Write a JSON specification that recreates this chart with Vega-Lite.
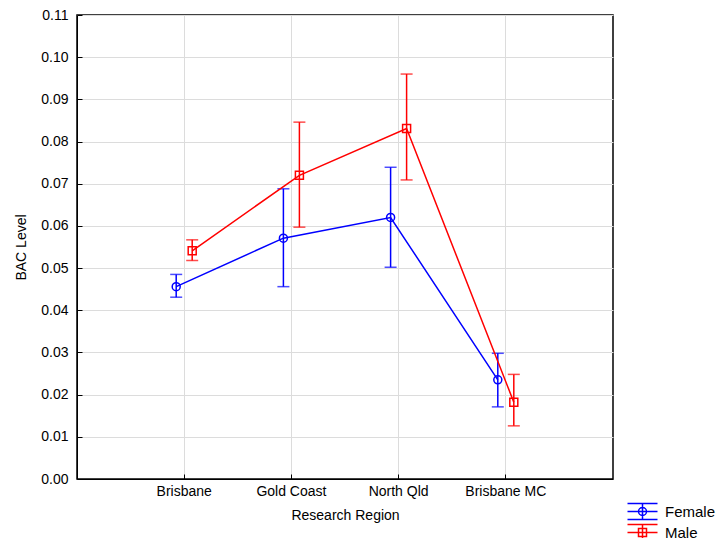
{
  "$schema": "https://vega.github.io/schema/vega-lite/v6.json",
  "width": 536,
  "height": 464,
  "autosize": "none",
  "padding": {"left": 77, "top": 15, "right": 105, "bottom": 59},
  "background": "white",
  "config": {
    "font": "Liberation Sans",
    "view": {"stroke": "black", "strokeWidth": 1.5},
    "axis": {
      "labelFont": "Liberation Sans",
      "titleFont": "Liberation Sans",
      "labelFontSize": 14,
      "titleFontSize": 14,
      "titleFontWeight": "normal",
      "labelColor": "black",
      "titleColor": "black",
      "domainColor": "black",
      "tickColor": "black",
      "gridColor": "#dcdcdc",
      "gridWidth": 1
    }
  },
  "data": {
    "values": [
      {"region": "Brisbane", "gender": "Female", "mean": 0.0456, "lo": 0.0431, "hi": 0.0485},
      {"region": "Gold Coast", "gender": "Female", "mean": 0.0571, "lo": 0.0456, "hi": 0.0688},
      {"region": "North Qld", "gender": "Female", "mean": 0.0620, "lo": 0.0502, "hi": 0.0739},
      {"region": "Brisbane MC", "gender": "Female", "mean": 0.0235, "lo": 0.0171, "hi": 0.0298},
      {"region": "Brisbane", "gender": "Male", "mean": 0.0541, "lo": 0.0518, "hi": 0.0567},
      {"region": "Gold Coast", "gender": "Male", "mean": 0.0720, "lo": 0.0597, "hi": 0.0846},
      {"region": "North Qld", "gender": "Male", "mean": 0.0831, "lo": 0.0709, "hi": 0.0960},
      {"region": "Brisbane MC", "gender": "Male", "mean": 0.0182, "lo": 0.0126, "hi": 0.0248}
    ]
  },
  "encoding": {
    "x": {
      "field": "region",
      "type": "nominal",
      "sort": ["Brisbane", "Gold Coast", "North Qld", "Brisbane MC"],
      "scale": {"type": "band", "paddingInner": 0.7015, "paddingOuter": 0.8507},
      "axis": {
        "title": "Research Region",
        "labelAngle": 0,
        "grid": true,
        "bandPosition": 0.5,
        "tickSize": -5,
        "labelPadding": 10,
        "titlePadding": 10
      }
    },
    "xOffset": {
      "field": "gender",
      "type": "nominal",
      "sort": ["Female", "Male"],
      "scale": {"paddingInner": 0, "paddingOuter": 0}
    },
    "color": {
      "field": "gender",
      "type": "nominal",
      "scale": {"domain": ["Female", "Male"], "range": ["#0000ff", "#ff0000"]},
      "legend": {
        "title": null,
        "orient": "none",
        "legendX": 558,
        "legendY": 489,
        "padding": 0,
        "labelFont": "Liberation Sans",
        "labelFontSize": 15,
        "labelColor": "black",
        "labelOffset": 15,
        "rowPadding": -2,
        "symbolSize": 100,
        "symbolStrokeWidth": 1.5,
        "encode": {
          "symbols": {
            "update": {
              "shape": {"signal": "datum.value === 'Female' ? 'M -3 -1.6 L 3 -1.6 M -3 1.6 L 3 1.6 M -3 0 L 3 0 M 0 -1.6 L 0 1.6 M -0.8 0 A 0.8 0.8 0 1 0 0.8 0 A 0.8 0.8 0 1 0 -0.8 0' : 'M -3 -1.6 L 3 -1.6 M -3 1.6 L 3 1.6 M -3 0 L 3 0 M 0 -1.6 L 0 1.6 M -0.8 -0.8 L 0.8 -0.8 L 0.8 0.8 L -0.8 0.8 Z'"},
              "fill": {"value": "transparent"},
              "fillOpacity": {"value": 0},
              "strokeWidth": {"value": 1.5},
              "size": {"value": 100}
            }
          }
        }
      }
    }
  },
  "layer": [
    {
      "mark": {"type": "rule", "strokeWidth": 1.5},
      "encoding": {
        "y": {
          "field": "lo",
          "type": "quantitative",
          "scale": {"domain": [0, 0.11], "nice": false, "zero": false},
          "axis": {
            "title": "BAC Level",
            "format": ".2f",
            "values": [0, 0.01, 0.02, 0.03, 0.04, 0.05, 0.06, 0.07, 0.08, 0.09, 0.1, 0.11],
            "grid": true,
            "tickSize": -5,
            "labelPadding": 14,
            "titlePadding": 12
          }
        },
        "y2": {"field": "hi"}
      }
    },
    {
      "mark": {"type": "tick", "orient": "horizontal", "size": 12, "thickness": 1.5},
      "encoding": {"y": {"field": "lo", "type": "quantitative"}}
    },
    {
      "mark": {"type": "tick", "orient": "horizontal", "size": 12, "thickness": 1.5},
      "encoding": {"y": {"field": "hi", "type": "quantitative"}}
    },
    {
      "mark": {"type": "line", "strokeWidth": 1.5},
      "encoding": {
        "y": {"field": "mean", "type": "quantitative"},
        "detail": {"field": "gender"}
      }
    },
    {
      "transform": [{"filter": "datum.gender === 'Female'"}],
      "mark": {"type": "point", "shape": "circle", "filled": false, "size": 64, "strokeWidth": 1.5, "opacity": 1},
      "encoding": {"y": {"field": "mean", "type": "quantitative"}}
    },
    {
      "transform": [{"filter": "datum.gender === 'Male'"}],
      "mark": {"type": "point", "shape": "square", "filled": false, "size": 64, "strokeWidth": 1.5, "opacity": 1},
      "encoding": {"y": {"field": "mean", "type": "quantitative"}}
    }
  ]
}
